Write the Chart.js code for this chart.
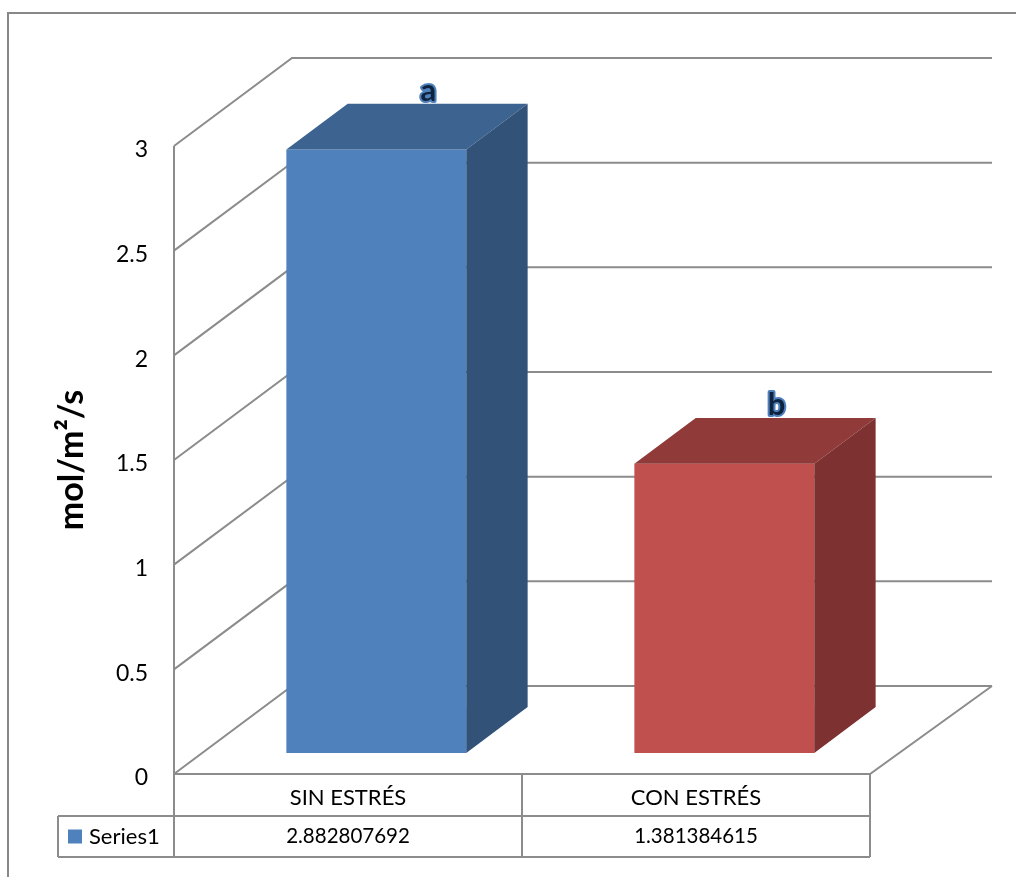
<!DOCTYPE html>
<html>
<head>
<meta charset="utf-8">
<script src="https://cdn.jsdelivr.net/npm/chart.js@4.4.1/dist/chart.umd.min.js"></script>
<style>
  html, body { margin: 0; padding: 0; background: #ffffff; }
  canvas { display: block; }
</style>
</head>
<body>
<canvas id="chart" width="1016" height="877"></canvas>
<script>
// ---- data ----
const categories = ['SIN ESTRÉS', 'CON ESTRÉS'];
const seriesName = 'Series1';
const values = [2.882807692, 1.381384615];
const letters = ['a', 'b'];
const yTicks = [0, 0.5, 1, 1.5, 2, 2.5, 3];
const yTitle = 'mol/m²/s';

// ---- styling ----
const frontColors = ['#4F81BD', '#C0504D'];
const topColors = ['#3D6491', '#903A39'];
const sideColors = ['#325278', '#7D3231'];
const FONT = 'Lato, "Open Sans", sans-serif';
const LINE = '#8c8c8c';

// oblique projection of the plot box
const WALL_DX_LEFT = 118, WALL_DX_RIGHT = 122, WALL_DY = 88;
const BAR_GAP = 0.24, BAR_DEPTH = 0.52;

// data table under the plot
const ROW_H = 42, ROW2_H = 41, TABLE_LEFT = 58;

const box3d = {
  id: 'box3d',
  beforeDatasetsDraw(chart) {
    const { ctx, chartArea: a, scales: { y } } = chart;
    const backRight = a.right + WALL_DX_RIGHT;
    const y0 = y.getPixelForValue(0);
    ctx.save();
    ctx.strokeStyle = LINE;
    ctx.lineWidth = 2;
    // side wall and back wall grid lines
    yTicks.forEach(v => {
      const py = y.getPixelForValue(v);
      ctx.beginPath();
      ctx.moveTo(a.left, py);
      ctx.lineTo(a.left + WALL_DX_LEFT, py - WALL_DY);
      ctx.lineTo(backRight, py - WALL_DY);
      ctx.stroke();
    });
    // floor outline
    ctx.beginPath();
    ctx.moveTo(a.left, y0);
    ctx.lineTo(a.right, y0);
    ctx.lineTo(backRight, y0 - WALL_DY);
    ctx.stroke();
    // front value axis, running down through the table
    ctx.beginPath();
    ctx.moveTo(a.left, y.getPixelForValue(yTicks[yTicks.length - 1]));
    ctx.lineTo(a.left, y0 + ROW_H + ROW2_H);
    ctx.stroke();
    ctx.restore();

    // bars sit in the middle of the box depth
    ctx.save();
    ctx.translate(WALL_DX_LEFT * BAR_GAP, -WALL_DY * BAR_GAP);
  },
  afterDatasetsDraw(chart) {
    const { ctx } = chart;
    const meta = chart.getDatasetMeta(0);
    const dx = WALL_DX_LEFT * BAR_DEPTH, dy = WALL_DY * BAR_DEPTH;
    meta.data.forEach((bar, i) => {
      const { x, y, base, width } = bar.getProps(['x', 'y', 'base', 'width'], true);
      const l = x - width / 2, r = x + width / 2;
      // top face
      ctx.fillStyle = topColors[i];
      ctx.beginPath();
      ctx.moveTo(l, y); ctx.lineTo(r, y); ctx.lineTo(r + dx, y - dy); ctx.lineTo(l + dx, y - dy);
      ctx.closePath(); ctx.fill();
      // right face
      ctx.fillStyle = sideColors[i];
      ctx.beginPath();
      ctx.moveTo(r, y); ctx.lineTo(r + dx, y - dy); ctx.lineTo(r + dx, base - dy); ctx.lineTo(r, base);
      ctx.closePath(); ctx.fill();
      // significance letter above the bar
      ctx.font = `bold 31px ${FONT}`;
      ctx.textAlign = 'center';
      ctx.textBaseline = 'alphabetic';
      ctx.lineJoin = 'round';
      ctx.lineWidth = 4;
      ctx.strokeStyle = '#4F81BD';
      const tx = x + dx * 0.85, ty = y - dy - 3;
      ctx.strokeText(letters[i], tx, ty);
      ctx.fillStyle = '#0F233F';
      ctx.fillText(letters[i], tx, ty);
    });
    ctx.restore();
  },
  afterDraw(chart) {
    const { ctx, chartArea: a, scales: { y } } = chart;
    const top = y.getPixelForValue(0);
    const mid = top + ROW_H, bottom = mid + ROW2_H;
    const colW = (a.right - a.left) / categories.length;
    ctx.save();
    ctx.strokeStyle = LINE;
    ctx.lineWidth = 2;
    ctx.beginPath();
    ctx.moveTo(TABLE_LEFT, mid); ctx.lineTo(a.right, mid);
    ctx.moveTo(TABLE_LEFT, bottom); ctx.lineTo(a.right, bottom);
    ctx.moveTo(TABLE_LEFT, mid); ctx.lineTo(TABLE_LEFT, bottom);
    for (let i = 1; i <= categories.length; i++) {
      const cx = a.left + i * colW;
      ctx.moveTo(cx, top); ctx.lineTo(cx, bottom);
    }
    ctx.stroke();

    ctx.fillStyle = '#000';
    ctx.textAlign = 'center';
    ctx.textBaseline = 'middle';
    categories.forEach((c, i) => {
      const cx = a.left + (i + 0.5) * colW;
      ctx.font = `22px ${FONT}`;
      ctx.fillText(c, cx, (top + mid) / 2 + 3);
      ctx.font = `20.5px ${FONT}`;
      ctx.fillText(String(values[i]), cx, (mid + bottom) / 2);
    });
    // series key
    ctx.fillStyle = frontColors[0];
    ctx.fillRect(68, (mid + bottom) / 2 - 7, 14, 14);
    ctx.fillStyle = '#000';
    ctx.textAlign = 'left';
    ctx.font = `22px ${FONT}`;
    ctx.fillText(seriesName, 89, (mid + bottom) / 2);

    // chart frame
    ctx.strokeStyle = '#888888';
    ctx.lineWidth = 2;
    ctx.strokeRect(8, 13, 1040, 920);
    ctx.restore();
  }
};

new Chart(document.getElementById('chart'), {
  type: 'bar',
  data: {
    labels: categories,
    datasets: [{
      label: seriesName,
      data: values,
      backgroundColor: frontColors,
      borderWidth: 0,
      categoryPercentage: 1,
      barPercentage: 0.517,
      clip: false
    }]
  },
  options: {
    responsive: false,
    animation: false,
    devicePixelRatio: 1,
    layout: { padding: { left: 0, top: 146, right: 146, bottom: 103 } },
    plugins: { legend: { display: false }, tooltip: { enabled: false } },
    scales: {
      x: { display: false },
      y: {
        min: 0,
        max: 3,
        afterBuildTicks(scale) { scale.ticks = yTicks.map(v => ({ value: v })); },
        afterFit(scale) { scale.width = 174; },
        ticks: {
          font: { family: FONT, size: 23 },
          color: '#000',
          padding: 26,
          labelOffset: 4,
          callback: v => String(v)
        },
        grid: { display: false, drawTicks: false },
        border: { display: false },
        title: {
          display: true,
          text: yTitle,
          color: '#000',
          font: { family: FONT, size: 34, weight: 'bold' },
          padding: { top: 52, bottom: 0 }
        }
      }
    }
  },
  plugins: [box3d]
});
</script>
</body>
</html>
